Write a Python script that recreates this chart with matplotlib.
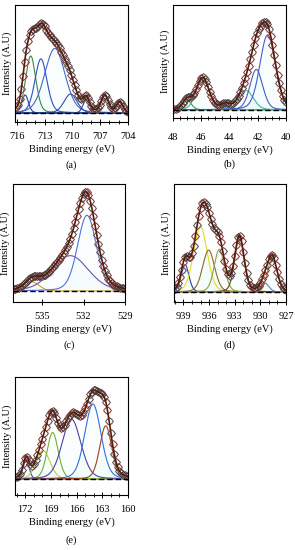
import numpy as np
import matplotlib
matplotlib.use("Agg")
import matplotlib.pyplot as plt
from matplotlib.ticker import FixedLocator

plt.rcParams.update({
    "font.family": ["Liberation Serif", "DejaVu Serif"],
    "font.size": 7.5,
})

# ── fitted components: centre (eV), height (rel.), sigma (eV)
a_centres = [715.1, 714.5, 713.4, 711.9, 710.2, 708.5, 706.5, 704.9]
a_heights = [0.19, 0.60, 0.57, 0.68, 0.20, 0.14, 0.18, 0.11]
a_sigmas = [0.35, 0.55, 0.65, 1.10, 0.70, 0.35, 0.40, 0.35]
a_colors = ["#3a3aa0", "#3f8a3a", "#3050c0", "#4a66d0", "#3050a0",
            "#2a4a90", "#2a4a90", "#2a4a90"]
a_ticks = [716, 713, 710, 707, 704]
a_minor = list(range(704, 717))

b_centres = [47.0, 45.9, 44.3, 42.8, 42.1, 41.3]
b_heights = [0.10, 0.33, 0.05, 0.20, 0.42, 0.78]
b_sigmas = [0.30, 0.45, 0.30, 0.50, 0.45, 0.55]
b_colors = ["#30a040", "#40b0a0", "#40b0a0", "#40b0a0", "#4060c0", "#3a5fd0"]
b_ticks = [48, 46, 44, 42, 40]
b_minor = [40 + 0.5 * i for i in range(17)]

c_centres = [535.7, 532.95, 531.75]
c_heights = [0.09, 0.35, 0.75]
c_sigmas = [0.50, 1.30, 0.68]
c_colors = ["#d0a040", "#7050b0", "#5070e0"]
c_ticks = [535, 532, 529]
c_minor = []

d_centres = [938.8, 937.0, 936.05, 934.8, 932.45, 929.5, 928.6]
d_heights = [0.30, 0.72, 0.46, 0.47, 0.60, 0.10, 0.38]
d_sigmas = [0.45, 0.80, 0.70, 0.60, 0.55, 0.50, 0.55]
d_colors = ["#3040a0", "#e0e020", "#8a6a20", "#90a040", "#604020",
            "#6080c0", "#a09040"]
d_ticks = [939, 936, 933, 930, 927]
d_minor = list(range(927, 941))

e_centres = [171.9, 169.9, 168.8, 166.6, 164.1, 162.6]
e_heights = [0.20, 0.30, 0.49, 0.63, 0.79, 0.56]
e_sigmas = [0.35, 0.80, 0.65, 1.10, 0.95, 0.70]
e_colors = ["#3050c0", "#c0d040", "#70b030", "#5040a0", "#3070e0", "#a04020"]
e_ticks = [172, 169, 166, 163, 160]
e_minor = list(range(160, 174))

panels = [
    # label, centres, heights, sigmas, colors, ticks, minor, xlim, ylim, step,
    # rect, label_y, tick pad
    ("(a)", a_centres, a_heights, a_sigmas, a_colors, a_ticks, a_minor,
     (716.2, 704), (-0.095, 1.137), 0.18, [15, 5, 113, 117], -0.37, 5),
    ("(b)", b_centres, b_heights, b_sigmas, b_colors, b_ticks, b_minor,
     (48, 40), (-0.085, 1.09), 0.12, [173, 5, 113, 113], -0.41, 8.5),
    ("(c)", c_centres, c_heights, c_sigmas, c_colors, c_ticks, c_minor,
     (537.1, 529), (-0.109, 1.06), 0.12, [13, 184, 112, 118], -0.365, 5),
    ("(d)", d_centres, d_heights, d_sigmas, d_colors, d_ticks, d_minor,
     (940.1, 927), (-0.11, 1.187), 0.2, [174, 184, 112, 118], -0.365, 5),
    ("(e)", e_centres, e_heights, e_sigmas, e_colors, e_ticks, e_minor,
     (173.2, 160), (-0.168, 1.074), 0.2, [15, 377, 113, 118], -0.38, 5),
]

W, H = 295, 550


def peak(x, c, h, s, eta=0.2):
    g = np.exp(-(x - c) ** 2 / (2 * s ** 2))
    gam = s * 1.1774
    l = gam ** 2 / ((x - c) ** 2 + gam ** 2)
    return h * ((1 - eta) * g + eta * l)


fig = plt.figure(figsize=(W / 100, H / 100), dpi=100)

for (label, cen, hei, sig, cols, ticks, minor, xlim, ylim, step,
     rect, label_y, pad) in panels:
    l, t, w, h = rect
    ax = fig.add_axes([l / W, 1 - (t + h) / H, w / W, h / H])

    x = np.linspace(min(xlim), max(xlim), 600)
    env = np.zeros_like(x)
    for c, hh, s, col in zip(cen, hei, sig, cols):
        y = peak(x, c, hh, s)
        env += y
        ax.fill_between(x, 0, y, color="#d8f8f8", alpha=0.15, lw=0)
        ax.plot(x, y, color=col, lw=0.8)

    xm = np.arange(min(xlim), max(xlim) + 1e-6, step)
    em = sum(peak(xm, c, hh, s) for c, hh, s in zip(cen, hei, sig))
    ax.plot(xm, em, "o", ms=5, mfc="none", mec="#e88a8a", mew=0.6)
    ax.plot(xm, em, "D", ms=3.6, mfc="none", mec="#3c3c3c", mew=0.5)
    ax.plot(x, env, color="#5a1a0a", lw=1.2)
    ax.plot(xlim, [0, 0], color="black", lw=1.0, ls=(0, (4, 2)))

    ax.set_xlim(xlim)
    ax.set_ylim(ylim)
    ax.set_yticks([])
    ax.xaxis.set_major_locator(FixedLocator(ticks))
    ax.xaxis.set_minor_locator(FixedLocator(minor))
    ax.tick_params(axis="x", which="major", direction="inout", length=4, width=0.7, pad=pad)
    ax.tick_params(axis="x", which="minor", direction="inout", length=2.5, width=0.6)
    for sp in ax.spines.values():
        sp.set_linewidth(0.8)
    ax.set_ylabel("Intensity (A.U)", labelpad=2)
    ax.set_xlabel("Binding energy (eV)", labelpad=3)
    ax.text(0.5, label_y, label, transform=ax.transAxes, ha="center", va="center")

fig.savefig("out.png", dpi=100)
